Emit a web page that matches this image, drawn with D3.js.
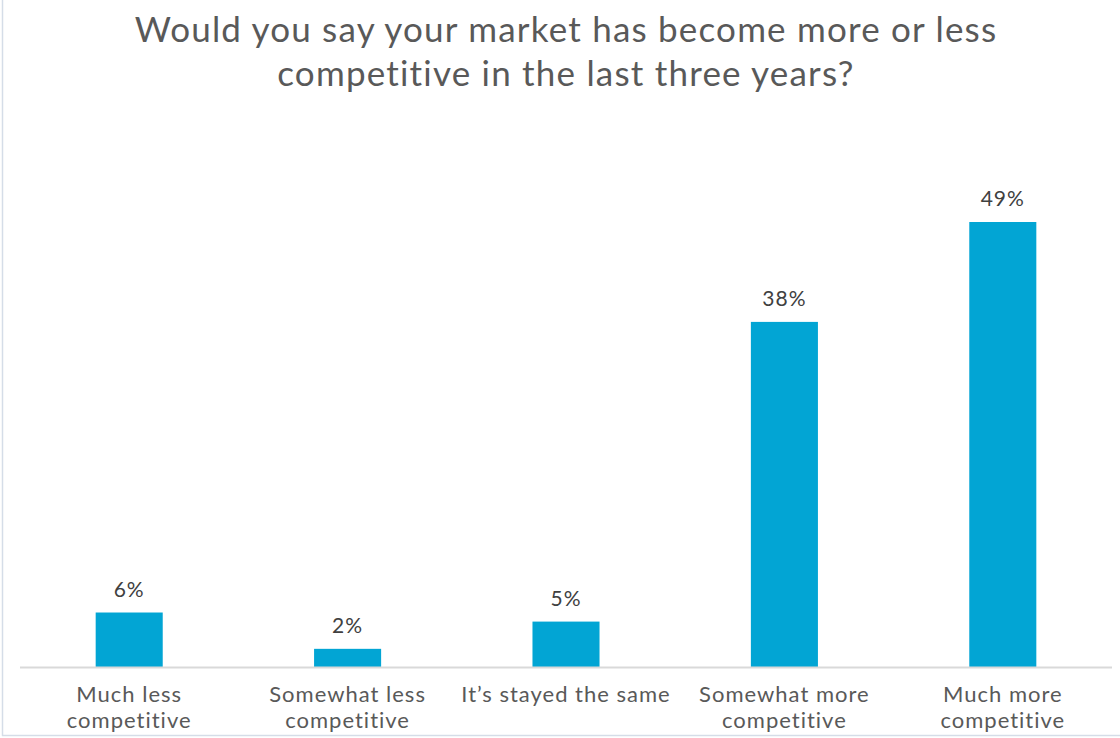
<!DOCTYPE html>
<html>
<head>
<meta charset="utf-8">
<script src="https://cdn.jsdelivr.net/npm/d3@7"></script>
<style>
  html, body { margin: 0; padding: 0; background: #fff; }
  svg { display: block; }
  text { font-variant-ligatures: none; }
</style>
</head>
<body>
<svg id="chart" width="1120" height="738"></svg>
<script>
// Survey responses: share of respondents per answer
const categories = [
  ["Much less", "competitive"],
  ["Somewhat less", "competitive"],
  ["It\u2019s stayed the same"],
  ["Somewhat more", "competitive"],
  ["Much more", "competitive"]
];
const values = [6, 2, 5, 38, 49];
const titleLines = [
  "Would you say your market has become more or less",
  "competitive in the last three years?"
];

const W = 1120, H = 738;
const FONT = "Lato, 'Open Sans', sans-serif";
const svg = d3.select("#chart");

// frame edges
svg.append("line").attr("x1", 2.5).attr("x2", 2.5).attr("y1", 0).attr("y2", 736)
  .attr("stroke", "#d5dde8").attr("stroke-width", 1.5);
svg.append("line").attr("x1", 2).attr("x2", W).attr("y1", 735.5).attr("y2", 735.5)
  .attr("stroke", "#d5dde8").attr("stroke-width", 1.5);

// title
svg.append("g").selectAll("text").data(titleLines).join("text")
  .attr("x", 566).attr("y", (d, i) => 42 + i * 44)
  .attr("text-anchor", "middle")
  .attr("font-family", FONT).attr("font-size", 35)
  .attr("letter-spacing", 1.2)
  .attr("fill", "#595959")
  .text(d => d);

const x = d3.scaleBand()
  .domain(d3.range(categories.length))
  .range([20, 1112])
  .paddingInner(0.693)
  .paddingOuter(0.3465);

const y = d3.scaleLinear().domain([0, 49]).range([667, 222]);

// bars
svg.append("g").selectAll("rect").data(values).join("rect")
  .attr("x", (d, i) => x(i))
  .attr("y", d => y(d))
  .attr("width", x.bandwidth())
  .attr("height", d => y(0) - y(d))
  .attr("fill", "#02a5d4");

// baseline
svg.append("line")
  .attr("x1", 20).attr("x2", 1112)
  .attr("y1", y(0) + 0.5).attr("y2", y(0) + 0.5)
  .attr("stroke", "#d9d9d9").attr("stroke-width", 2);

// value labels
svg.append("g").selectAll("text").data(values).join("text")
  .attr("x", (d, i) => x(i) + x.bandwidth() / 2)
  .attr("y", d => y(d) - 16)
  .attr("text-anchor", "middle")
  .attr("font-family", FONT).attr("font-size", 21)
  .attr("letter-spacing", 1)
  .attr("fill", "#404040")
  .text(d => d + "%");

// category labels, one text per line
const catLines = categories.flatMap((lines, i) => lines.map((s, j) => ({ s, i, j })));
svg.append("g").selectAll("text").data(catLines).join("text")
  .attr("x", d => x(d.i) + x.bandwidth() / 2)
  .attr("y", d => 702 + d.j * 26)
  .attr("text-anchor", "middle")
  .attr("font-family", FONT).attr("font-size", 22)
  .attr("letter-spacing", 1)
  .attr("fill", "#595959")
  .text(d => d.s);
</script>
</body>
</html>
